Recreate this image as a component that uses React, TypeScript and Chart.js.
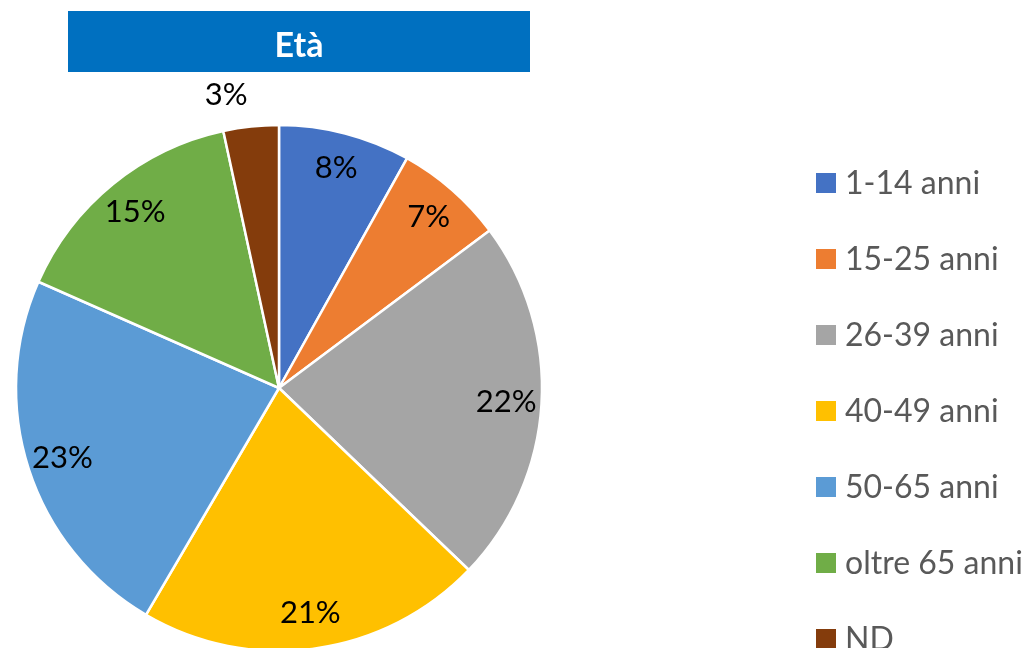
import React, { useEffect, useRef } from "react";
import { Chart, registerables } from "chart.js";

Chart.register(...registerables);

const TITLE = "Età";
const CATEGORIES = ["1-14 anni", "15-25 anni", "26-39 anni", "40-49 anni", "50-65 anni", "oltre 65 anni", "ND"];
const VALUES = [8.1, 6.7, 22.4, 21.3, 23.2, 15.0, 3.4];
const COLORS = ["#4472C4", "#ED7D31", "#A5A5A5", "#FFC000", "#5B9BD5", "#70AD47", "#843C0C"];

const FONT = "Lato, 'Open Sans', sans-serif";

const decorPlugin = {
  id: "decor",
  afterDraw(chart: any) {
    const ctx = chart.ctx;
    ctx.save();
    // Title box
    ctx.fillStyle = "#0070C0";
    ctx.fillRect(68, 11, 462, 61);
    ctx.fillStyle = "#FFFFFF";
    ctx.font = `bold 34px ${FONT}`;
    ctx.textAlign = "center";
    ctx.textBaseline = "alphabetic";
    ctx.fillText(TITLE, 299, 57);

    // Legend
    const labels: string[] = chart.data.labels;
    const colors: string[] = chart.data.datasets[0].backgroundColor;
    ctx.font = `32px ${FONT}`;
    ctx.textAlign = "left";
    labels.forEach((lab, i) => {
      const cy = 183 + 76 * i;
      ctx.fillStyle = colors[i];
      ctx.fillRect(816, cy - 10, 20, 20);
      ctx.fillStyle = "#595959";
      ctx.fillText(lab, 845, cy + 11);
    });

    // Data labels
    const meta = chart.getDatasetMeta(0);
    const data: number[] = chart.data.datasets[0].data;
    const total = data.reduce((a, b) => a + b, 0);
    ctx.font = `31px ${FONT}`;
    ctx.fillStyle = "#000000";
    ctx.textBaseline = "middle";
    meta.data.forEach((arc: any, i: number) => {
      const p = arc.getProps(["startAngle", "endAngle", "outerRadius", "x", "y"], true);
      const mid = (p.startAngle + p.endAngle) / 2;
      const pct = data[i] / total;
      const txt = `${Math.round(pct * 100)}%`;
      if (pct < 0.05) {
        const rr = p.outerRadius + 32;
        const x = p.x + Math.cos(mid) * rr;
        const y = p.y + Math.sin(mid) * rr;
        ctx.textAlign = Math.cos(mid) < 0 ? "right" : "left";
        ctx.fillText(txt, x, y);
      } else {
        const rr = p.outerRadius * 0.865;
        ctx.textAlign = "center";
        ctx.fillText(txt, p.x + Math.cos(mid) * rr, p.y + Math.sin(mid) * rr);
      }
    });
    ctx.restore();
  },
};

export default function App() {
  const ref = useRef<HTMLCanvasElement>(null);
  useEffect(() => {
    if (!ref.current) return;
    const chart = new Chart(ref.current, {
      type: "pie",
      data: {
        labels: CATEGORIES,
        datasets: [
          {
            data: VALUES,
            backgroundColor: COLORS,
            borderColor: "#FFFFFF",
            borderWidth: 2.5,
            clip: false as any,
          },
        ],
      },
      options: {
        animation: false,
        responsive: false,
        radius: 263,
        layout: { padding: { left: 0, right: 470, top: 128, bottom: 0 } },
        plugins: {
          legend: { display: false },
          title: { display: false },
          tooltip: { enabled: false },
        },
      } as any,
      plugins: [decorPlugin],
    });
    return () => chart.destroy();
  }, []);
  return (
    <div style={{ position: "fixed", left: 0, top: 0, width: 1028, height: 648, background: "#fff" }}>
      <canvas ref={ref} width={1028} height={648} style={{ width: 1028, height: 648 }} />
    </div>
  );
}
